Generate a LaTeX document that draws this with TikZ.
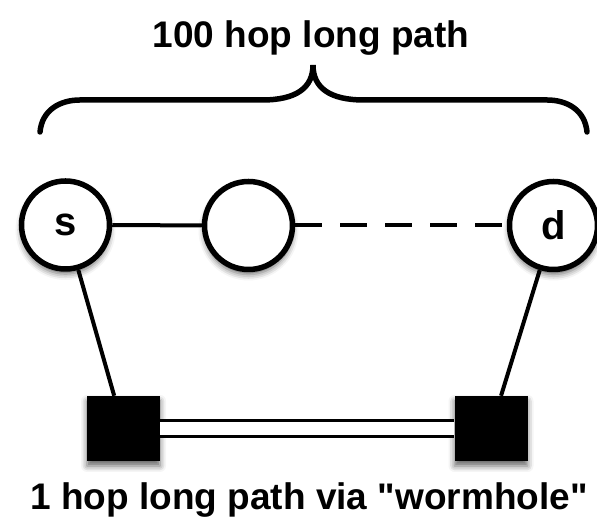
\documentclass[tikz,border=0pt]{standalone}
\usepackage{fontspec}
\setmainfont{Liberation Sans}
\usetikzlibrary{shadows.blur}
\newcommand\straightquote{\XeTeXglyph\XeTeXcharglyph"22\relax}
\begin{document}
\begin{tikzpicture}[x=1pt,y=1pt,
  softshadow/.style={blur shadow={shadow xshift=0pt, shadow yshift=-5pt, shadow blur radius=6pt, shadow opacity=60}},
  txt/.style={font=\bfseries\fontsize{37}{40}\selectfont, inner sep=0},
  nodecirc/.style={circle, draw=black, fill=white, line width=5.5pt, minimum size=88pt, inner sep=0,
    font=\bfseries\fontsize{40}{44}\selectfont, softshadow},
  sqbox/.style={rectangle, fill=black, minimum width=73pt, minimum height=65pt, inner sep=0, softshadow},
  link/.style={line width=4pt},
  bracestyle/.style={line width=5.5pt, line cap=round},
]
\useasboundingbox (0,0) rectangle (597,518);

% title and caption
\node[txt, anchor=base] (title) at (311,470) {100 hop long path};
\node[txt, anchor=base] (caption) at (309,8) {1 hop long path via \straightquote wormhole\straightquote};

% brace
\draw[bracestyle] (40,386) .. controls (42,408) and (60,418) .. (80,418)
  -- (262,418) .. controls (296,418) and (313,430) .. (313,453)
  .. controls (313,430) and (330,418) .. (364,418)
  -- (547,418) .. controls (567,418) and (585,408) .. (587,386);

% nodes
\node[nodecirc] (s) at (65.5,293) {s};
\node[nodecirc] (m) at (248.5,292.5) {};
\node[nodecirc] (d) at (553.5,292.5) {d};
\node[sqbox] (ls) at (123.5,89.5) {};
\node[sqbox] (rs) at (491,89.5) {};

% connectors
\draw[link] (s) -- (m);
\draw[link, dash pattern=on 27pt off 18pt] (m) -- (d);
\draw[link] (s) -- (ls);
\draw[link] (d) -- (rs);
\draw[double, double distance=12.5pt, line width=3.5pt] (ls) -- (rs);
\end{tikzpicture}
\end{document}
